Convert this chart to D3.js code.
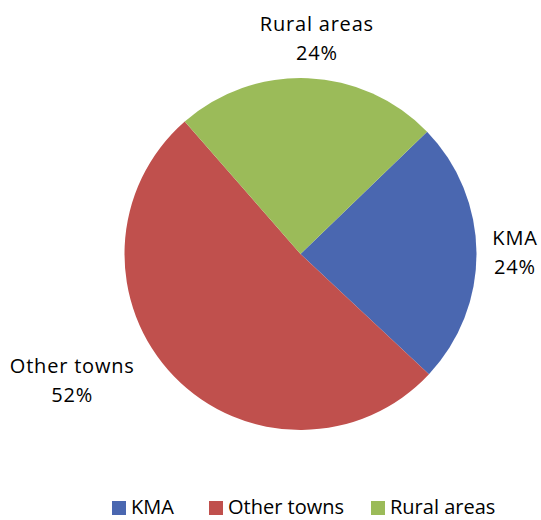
<!DOCTYPE html>
<html><head><meta charset="utf-8">
<script src="https://cdn.jsdelivr.net/npm/d3@7"></script>
<style>body{margin:0;background:#fff}text{font-family:"Open Sans",sans-serif;fill:#000}</style>
</head><body><svg id="c" width="541" height="520"></svg>
<script>
const categories = ["KMA", "Other towns", "Rural areas"];
const values = [24.2, 51.6, 24.2];
const labels = ["24%", "52%", "24%"];
const colors = ["#4A67B0", "#C0504D", "#9BBB59"];

const W = 541, H = 520, cx = 300.5, cy = 254, R = 176;
const svg = d3.select("#c");
const g = svg.append("g").attr("transform", `translate(${cx},${cy})`);
const startA = 46 * Math.PI / 180;
const pie = d3.pie().sort(null).startAngle(startA).endAngle(startA + 2 * Math.PI);
const arcs = pie(values);
const arc = d3.arc().innerRadius(0).outerRadius(R);
g.selectAll("path").data(arcs).join("path")
  .attr("d", arc).attr("fill", (d, i) => colors[i]);

// data labels (category + percentage), placed outside like Excel "best fit"
const fs = 20, lh = 29.5;
const labelLayout = [
  {r: 214.5, da: 0},
  {r: 261, da: 15},
  {r: 216, da: 1.9}
];
arcs.forEach((d, i) => {
  const L = labelLayout[i];
  const a = (d.startAngle + d.endAngle) / 2 + (L.da * Math.PI / 180);
  const x = L.r * Math.sin(a), yc = -L.r * Math.cos(a);
  const t = g.append("text").attr("text-anchor", "middle").attr("font-size", fs)
    .attr("letter-spacing", "0.8px");
  t.append("tspan").attr("x", x).attr("y", yc - lh / 2 + 7).text(categories[i]);
  t.append("tspan").attr("x", x).attr("y", yc + lh / 2 + 7).text(labels[i]);
});

// legend
const leg = svg.append("g");
const legX = [112, 209, 371];
categories.forEach((c, i) => {
  leg.append("rect").attr("x", legX[i]).attr("y", 501).attr("width", 14).attr("height", 14).attr("fill", colors[i]);
  leg.append("text").attr("x", legX[i] + 19).attr("y", 514).attr("font-size", 20).text(c);
});
</script></body></html>
